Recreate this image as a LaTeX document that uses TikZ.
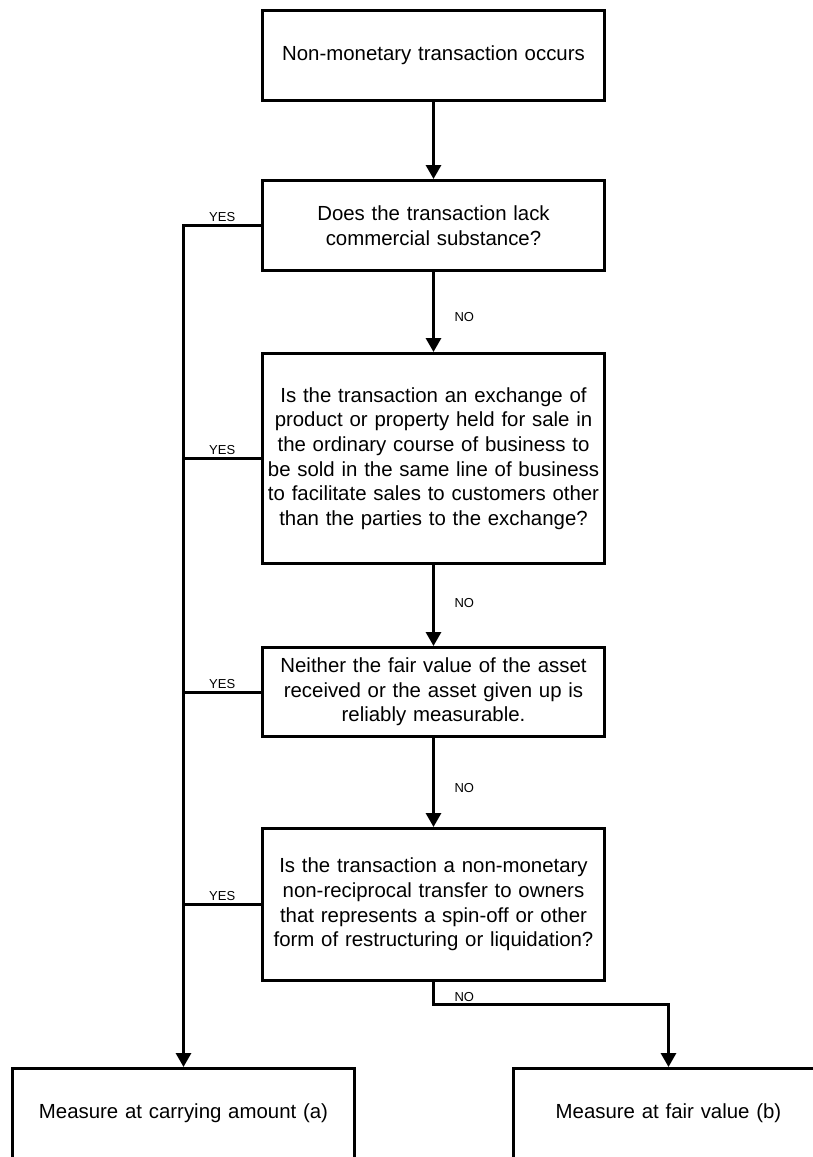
\documentclass[tikz,border=0pt]{standalone}
\usepackage{fontspec}
\setmainfont{Liberation Sans}
\usetikzlibrary{positioning}
\usetikzlibrary{calc}
\usetikzlibrary{arrows.meta}

\begin{document}
\begin{tikzpicture}[x=1pt,y=-1pt,
  box/.style={draw,line width=3pt,align=center,text width=342pt,inner xsep=0pt,inner ysep=0pt,minimum height=90pt,font=\fontsize{20.4}{24.6}\selectfont},
  lbl/.style={inner sep=0pt,outer sep=0pt,font=\fontsize{13}{13}\selectfont},
  flow/.style={line width=3pt,-{Triangle[width=15pt,length=14pt]}},
  wire/.style={line width=3pt}]
\useasboundingbox (0,0) rectangle (813,1157);
\clip (0,0) rectangle (813,1157);

% questions down the middle
\node [box] (start) at (433.5,55.5) {Non-monetary transaction occurs};
\node [box] (lack) at (433.5,225.5) {Does the transaction lack\\ commercial substance?};
\node [box, minimum height=210pt] (exch) at (433.5,458.5) {Is the transaction an exchange of\\ product or property held for sale in\\ the ordinary course of business to\\ be sold in the same line of business\\ to facilitate sales to customers other\\ than the parties to the exchange?};
\node [box, minimum height=89pt] (fair) at (433.5,692) {Neither the fair value of the asset\\ received or the asset given up is\\ reliably measurable.};
\node [box, minimum height=152pt] (spin) at (433.5,904.5) {Is the transaction a non-monetary\\ non-reciprocal transfer to owners\\ that represents a spin-off or other\\ form of restructuring or liquidation?};

% outcomes
\node [box] (carry) at (183.5,1113.5) {Measure at carrying amount (a)};
\node [box, text width=310pt] (fv) at (668.5,1113.5) {Measure at fair value (b)};

% NO path
\draw [flow] (start) -- (lack);
\draw [flow] (lack) -- node[lbl, pos=0.56, right=21pt] {NO} (exch);
\draw [flow] (exch) -- node[lbl, pos=0.47, right=21pt] {NO} (fair);
\draw [flow] (fair) -- node[lbl, pos=0.56, right=21pt] {NO} (spin);
\coordinate (knee) at (433.5,1004);
\draw [flow] (spin.south) -- (knee) -| (fv.north);
\node [lbl, anchor=south west] (nolast) at ([xshift=21pt,yshift=2pt]knee) {NO};

% YES path
\draw [flow] (lack.west) -| node[lbl, pos=0.25, above=3.5pt] {YES} (carry.north);
\draw [wire] (exch.west) -- node[lbl, above=3.5pt] {YES} (exch.west -| carry.north);
\draw [wire] (fair.west) -- node[lbl, above=3.5pt] {YES} (fair.west -| carry.north);
\draw [wire] (spin.west) -- node[lbl, above=3.5pt] {YES} (spin.west -| carry.north);

\end{tikzpicture}
\end{document}
